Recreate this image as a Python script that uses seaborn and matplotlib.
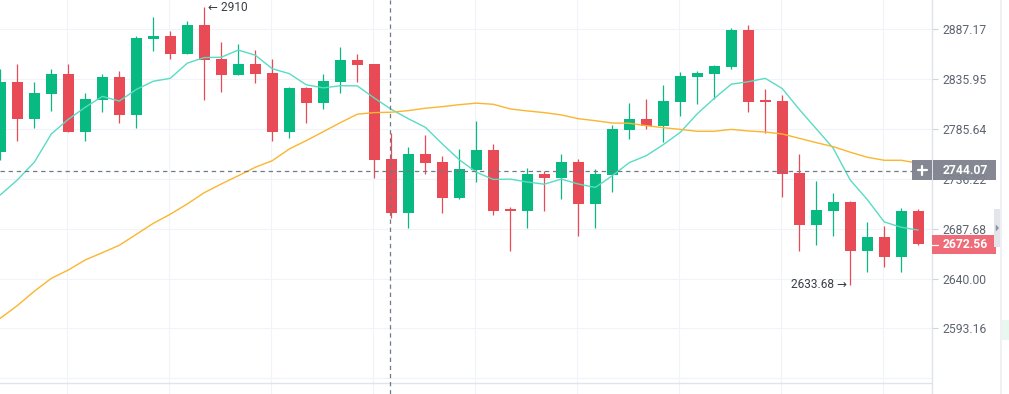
import numpy as np
import pandas as pd
import matplotlib
matplotlib.use("Agg")
import matplotlib.pyplot as plt
import seaborn as sns
from matplotlib.patches import Rectangle, Polygon
from matplotlib.lines import Line2D
from matplotlib.ticker import FixedLocator, FixedFormatter, NullLocator

# ---------------- data ----------------
opens = [2763.0, 2832.8, 2795.8, 2821.0, 2841.0, 2782.8, 2815.0, 2837.9, 2799.9, 2877.2,
         2880.0, 2861.8, 2891.3, 2856.4, 2840.3, 2851.2, 2842.0, 2782.8, 2826.8, 2812.0,
         2833.1, 2855.3, 2851.2, 2755.4, 2703.2, 2760.7, 2752.8, 2717.7, 2744.8, 2764.6,
         2706.7, 2705.1, 2740.9, 2737.2, 2752.8, 2711.9, 2740.2, 2784.8, 2795.5, 2788.8,
         2813.0, 2838.2, 2841.3, 2848.5, 2886.1, 2815.0, 2814.0, 2741.9, 2691.5, 2705.1,
         2713.6, 2666.6, 2679.7, 2660.8, 2705.1]
highs = [2846.1, 2851.2, 2832.8, 2846.1, 2851.2, 2821.7, 2841.0, 2844.1, 2880.0, 2899.5,
         2885.1, 2895.7, 2910.0, 2873.8, 2871.8, 2865.9, 2856.4, 2827.8, 2827.3, 2841.0,
         2868.7, 2861.8, 2851.5, 2781.8, 2767.6, 2779.5, 2758.7, 2765.6, 2793.5, 2770.9,
         2708.4, 2746.8, 2744.1, 2761.0, 2755.7, 2745.8, 2789.5, 2812.0, 2815.7, 2830.1,
         2843.0, 2844.1, 2850.2, 2888.2, 2891.3, 2825.5, 2819.7, 2761.0, 2734.3, 2722.6,
         2714.5, 2694.4, 2690.6, 2707.4, 2706.5]
lows = [2754.7, 2773.9, 2786.8, 2803.6, 2782.0, 2773.6, 2802.6, 2791.8, 2786.8, 2864.6,
        2856.7, 2861.3, 2815.0, 2823.0, 2840.0, 2832.1, 2773.9, 2776.5, 2791.8, 2805.9,
        2822.0, 2833.1, 2736.6, 2698.3, 2688.6, 2741.2, 2703.2, 2716.8, 2733.3, 2701.2,
        2666.6, 2688.6, 2704.5, 2716.2, 2680.9, 2688.0, 2723.0, 2775.2, 2785.4, 2772.9,
        2798.9, 2810.9, 2816.0, 2846.4, 2802.9, 2781.8, 2718.1, 2666.6, 2672.3, 2680.9,
        2633.68, 2646.5, 2650.7, 2646.5, 2672.0]
closes = [2832.8, 2795.8, 2821.7, 2841.0, 2782.8, 2815.7, 2837.9, 2799.9, 2877.9, 2880.0,
          2861.8, 2891.3, 2855.7, 2840.3, 2851.2, 2841.3, 2782.8, 2826.8, 2812.0, 2833.8,
          2855.3, 2850.5, 2755.0, 2703.2, 2760.7, 2752.1, 2717.7, 2745.5, 2764.6, 2705.1,
          2705.1, 2740.9, 2737.2, 2752.8, 2711.9, 2740.9, 2785.4, 2795.5, 2788.8, 2813.7,
          2838.9, 2842.0, 2849.2, 2886.1, 2813.0, 2813.0, 2741.2, 2691.5, 2705.8, 2713.6,
          2666.6, 2679.7, 2660.8, 2705.1, 2672.56]
# first values of the short moving average (earlier candles are off-screen)
ma7_head = [2720.4, 2735.0, 2752.5, 2780.5, 2795.2, 2807.3]
ma30 = [2602.6, 2614.5, 2628.0, 2640.2, 2648.1, 2657.7, 2664.6, 2671.7, 2682.2, 2692.8,
        2701.6, 2711.6, 2722.6, 2731.1, 2739.2, 2747.5, 2754.0, 2765.6, 2773.9, 2782.8,
        2791.8, 2800.3, 2801.9, 2802.3, 2803.9, 2806.3, 2807.9, 2809.9, 2811.4, 2810.3,
        2805.6, 2803.6, 2801.9, 2799.6, 2795.8, 2793.8, 2791.5, 2791.2, 2788.8, 2786.8,
        2785.1, 2783.2, 2783.2, 2785.1, 2783.5, 2782.5, 2780.5, 2776.2, 2771.9, 2767.9,
        2762.4, 2757.4, 2754.4, 2754.4, 2751.5]
price_ticks = [2887.17, 2835.95, 2785.64, 2736.22, 2687.68, 2640.00, 2593.16]
tick_labels = ["2887.17", "2835.95", "2785.64", "2736.22", "2687.68", "2640.00", "2593.16"]
extra_grid_price = 2547.10
crosshair_price = 2744.07
crosshair_bar = 22.95
last_price = 2672.56
high_label = "2910"
low_label = "2633.68"
vgrid_bars = [4, 10, 16, 22, 28, 34, 40, 46, 52]

# ---------------- style ----------------
GREEN = "#08b981"
RED = "#e84a56"
CYAN = "#58dcc4"
ORANGE = "#fbb52e"
GRID = "#f0f3fa"
AXCOL = "#e0e3eb"
TXT = "#5d6470"

sns.set_style("white")
plt.rcParams['font.family'] = ['Roboto', 'DejaVu Sans']

W, H = 1009, 394
fig = plt.figure(figsize=(W / 100, H / 100), dpi=100)
fig.patch.set_facecolor("white")
ax = fig.add_axes([0, 0, 932 / W, 1])
ax.set_facecolor("white")

df = pd.DataFrame(dict(o=opens, h=highs, l=lows, c=closes))
df["i"] = np.arange(len(df))
up = df.c >= df.o
cols = np.where(up, GREEN, RED)

ax.set_yscale("log")
ax.set_ylim(2532.9, 2917.4)
ax.set_xlim(-0.018, 54.81)

# grid
for p in price_ticks + [extra_grid_price]:
    ax.axhline(p, color=GRID, lw=0.8, zorder=0)
for b in vgrid_bars:
    ax.axvline(b - 0.06, color=GRID, lw=0.8, zorder=0)
ax.axhline(2542.5, color=AXCOL, lw=1.0, zorder=1)

# candles
ax.vlines(df.i, df.l, df.h, colors=cols, lw=0.9, zorder=3)
body_bottom = np.minimum(df.o, df.c)
body_h = np.maximum(np.abs(df.c - df.o), 0.5)
ax.bar(df.i, body_h, width=0.63, bottom=body_bottom, color=cols, linewidth=0, zorder=4)

# moving averages
ma7 = pd.Series(closes).rolling(7).mean().to_numpy()
ma7[:len(ma7_head)] = ma7_head
sns.lineplot(x=df.i, y=ma7, color=CYAN, linewidth=1.0, ax=ax, zorder=5)
sns.lineplot(x=df.i, y=ma30, color=ORANGE, linewidth=1.0, ax=ax, zorder=5)

# crosshair
ax.axvline(crosshair_bar, color="#6f7a89", lw=0.9, ls=(0, (3.5, 3)), zorder=6)
ax.axhline(crosshair_price, color="#6f7a89", lw=0.9, ls=(0, (3.5, 3)), zorder=6)

# annotations
ax.annotate("\u2190 " + high_label, xy=(12, 2910.0), xytext=(2.5, 0), textcoords="offset points",
            ha="left", va="center", fontsize=8.6, color="#3a3e46", zorder=7)
ax.annotate(low_label + " \u2192", xy=(50, 2633.68), xytext=(-2.5, 0.5), textcoords="offset points",
            ha="right", va="center", fontsize=8.6, color="#3a3e46", zorder=7)

# axes / ticks
for s in ["top", "left", "bottom"]:
    ax.spines[s].set_visible(False)
ax.spines["right"].set_color(AXCOL)
ax.spines["right"].set_linewidth(1.0)
ax.set_xticks([])
ax.yaxis.tick_right()
ax.yaxis.set_major_locator(FixedLocator(price_ticks))
ax.yaxis.set_major_formatter(FixedFormatter(tick_labels))
ax.yaxis.set_minor_locator(NullLocator())
ax.tick_params(axis="y", which="major", direction="out", length=4.3, width=0.8,
               color="#d1d4dc", labelsize=8.7, labelcolor=TXT, pad=3.0)
ax.set_xlabel("")
ax.set_ylabel("")
if ax.get_legend() is not None:
    ax.get_legend().remove()

# ---------------- overlay labels (figure pixels) ----------------
def rect(x, y, w, h, color, alpha=1.0, z=1):
    fig.add_artist(Rectangle((x / W, 1 - (y + h) / H), w / W, h / H, transform=fig.transFigure,
                             facecolor=color, edgecolor="none", alpha=alpha, zorder=z))

def line(x0, y0, x1, y1, color, lw, z=2):
    fig.add_artist(Line2D([x0 / W, x1 / W], [1 - y0 / H, 1 - y1 / H], transform=fig.transFigure,
                          color=color, lw=lw, zorder=z))

# crosshair price label
rect(912, 160, 20, 20, "#7e828c", 0.95)
rect(933, 160, 63, 20, "#7e828c", 0.95)
line(917.5, 170.3, 926.5, 170.3, "white", 1.6)
line(922, 165.8, 922, 174.8, "white", 1.6)
fig.text(942.2 / W, 1 - 170.3 / H, "2744.07", color="white", fontsize=8.7, fontweight="bold",
         ha="left", va="center", zorder=3)

# last price label
rect(931.7, 235, 64, 19, "#ef6b77")
line(932, 244.7, 937.5, 244.7, "white", 0.9)
fig.text(942.2 / W, 1 - 244.6 / H, f"{last_price:.2f}", color="white", fontsize=8.7, fontweight="bold",
         ha="left", va="center", zorder=3)

# right-hand scroll strip
rect(1000, 0, 2, 394, "#eef0f3")
rect(994.3, 209, 5.7, 38, "#e3e5e9")
fig.add_artist(Polygon([(995.8 / W, 1 - 224.5 / H), (995.8 / W, 1 - 231.5 / H), (999 / W, 1 - 228 / H)],
                       closed=True, transform=fig.transFigure, facecolor="#8c919b",
                       edgecolor="none", zorder=2))
rect(1002, 320, 7, 20, "#e9f7f1")

fig.savefig("out.png", dpi=100, facecolor="white")
